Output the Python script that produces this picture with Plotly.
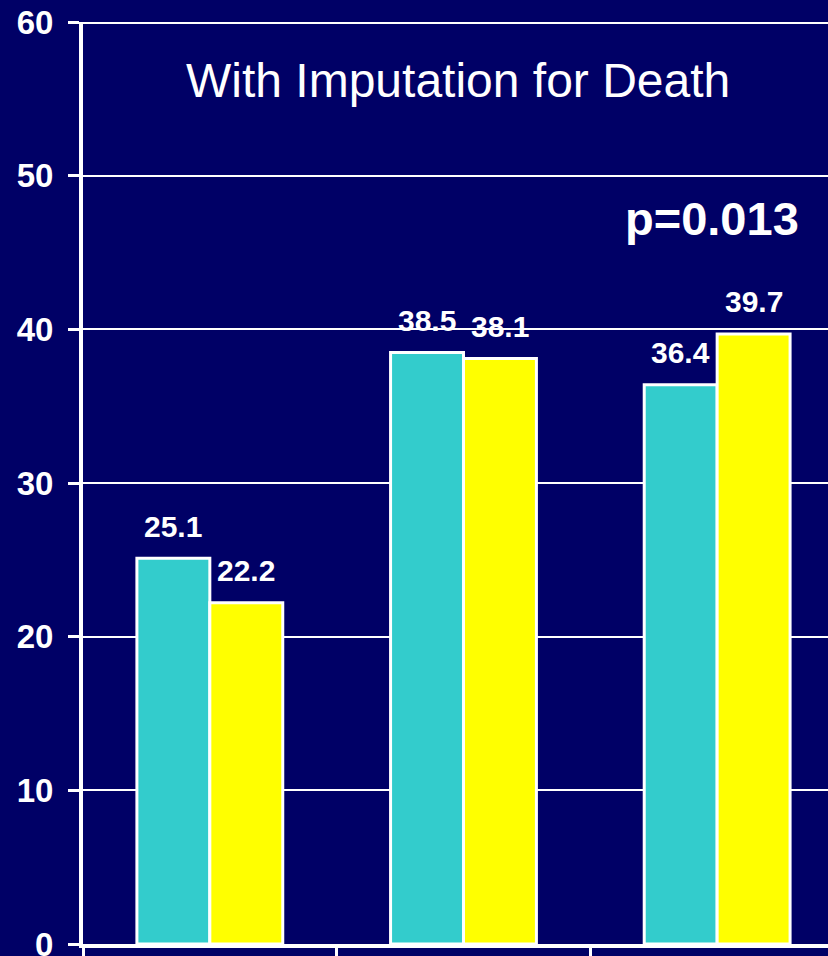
import plotly.graph_objects as go

# Chart data
categories = ["Group 1", "Group 2", "Group 3"]
series_a = [25.1, 38.5, 36.4]
series_b = [22.2, 38.1, 39.7]
series_names = ["Arm A", "Arm B"]
y_ticks = [0, 10, 20, 30, 40, 50, 60]
title_text = "With Imputation for Death"
p_text = "p=0.013"

NAVY = "#000066"
TEAL = "#33CCCC"
YELLOW = "#FFFF00"
FONT = "Liberation Sans, Arial, sans-serif"

BARGAP = 0.425
bar_w = (1 - BARGAP) / 2

fig = go.Figure()
fig.add_trace(go.Bar(x=categories, y=series_a, name=series_names[0],
                     marker=dict(color=TEAL, line=dict(color="white", width=3))))
fig.add_trace(go.Bar(x=categories, y=series_b, name=series_names[1],
                     marker=dict(color=YELLOW, line=dict(color="white", width=3))))

# value labels above each bar
for i, (a, b) in enumerate(zip(series_a, series_b)):
    for val, off in ((a, -bar_w / 2), (b, bar_w / 2)):
        fig.add_annotation(x=i + off, y=val, xref="x", yref="y",
                           text=f"{val:.1f}", showarrow=False,
                           yanchor="middle", yshift=32,
                           font=dict(family=FONT, size=30, color="white",
                                     weight="bold"))

fig.add_annotation(x=0.503, y=0.9366, xref="paper", yref="paper",
                   text=title_text, showarrow=False,
                   xanchor="center", yanchor="middle",
                   font=dict(family=FONT, size=48, color="white"))
fig.add_annotation(x=0.8445, y=0.787, xref="paper", yref="paper",
                   text=p_text, showarrow=False,
                   xanchor="center", yanchor="middle",
                   font=dict(family=FONT, size=47, color="white", weight="bold"))

# top border line at the 60 level
fig.add_shape(type="line", xref="paper", yref="y", x0=0, x1=1, y0=60, y1=60,
              line=dict(color="white", width=4))

fig.update_layout(
    width=828, height=956,
    margin=dict(l=83, r=0, t=22, b=12),
    paper_bgcolor=NAVY, plot_bgcolor=NAVY,
    barmode="group", bargap=BARGAP, bargroupgap=0,
    showlegend=False,
)
fig.update_xaxes(
    range=[-0.5, 2.437], showgrid=False, showticklabels=False,
    showline=True, linecolor="white", linewidth=4, automargin=False,
    ticks="outside", tickson="boundaries", ticklen=14, tickwidth=3,
    tickcolor="white", zeroline=False,
)
fig.update_yaxes(
    range=[0, 60], tickvals=y_ticks, showgrid=True, gridcolor="white",
    gridwidth=2, showline=True, linecolor="white", linewidth=4,
    ticks="outside", ticklen=11, tickwidth=3, tickcolor="white",
    ticklabelstandoff=8, zeroline=False, ticklabeloverflow="allow",
    automargin=False,
    tickfont=dict(family=FONT, size=33, color="white", weight="bold"),
)

fig.write_html("out.html")
